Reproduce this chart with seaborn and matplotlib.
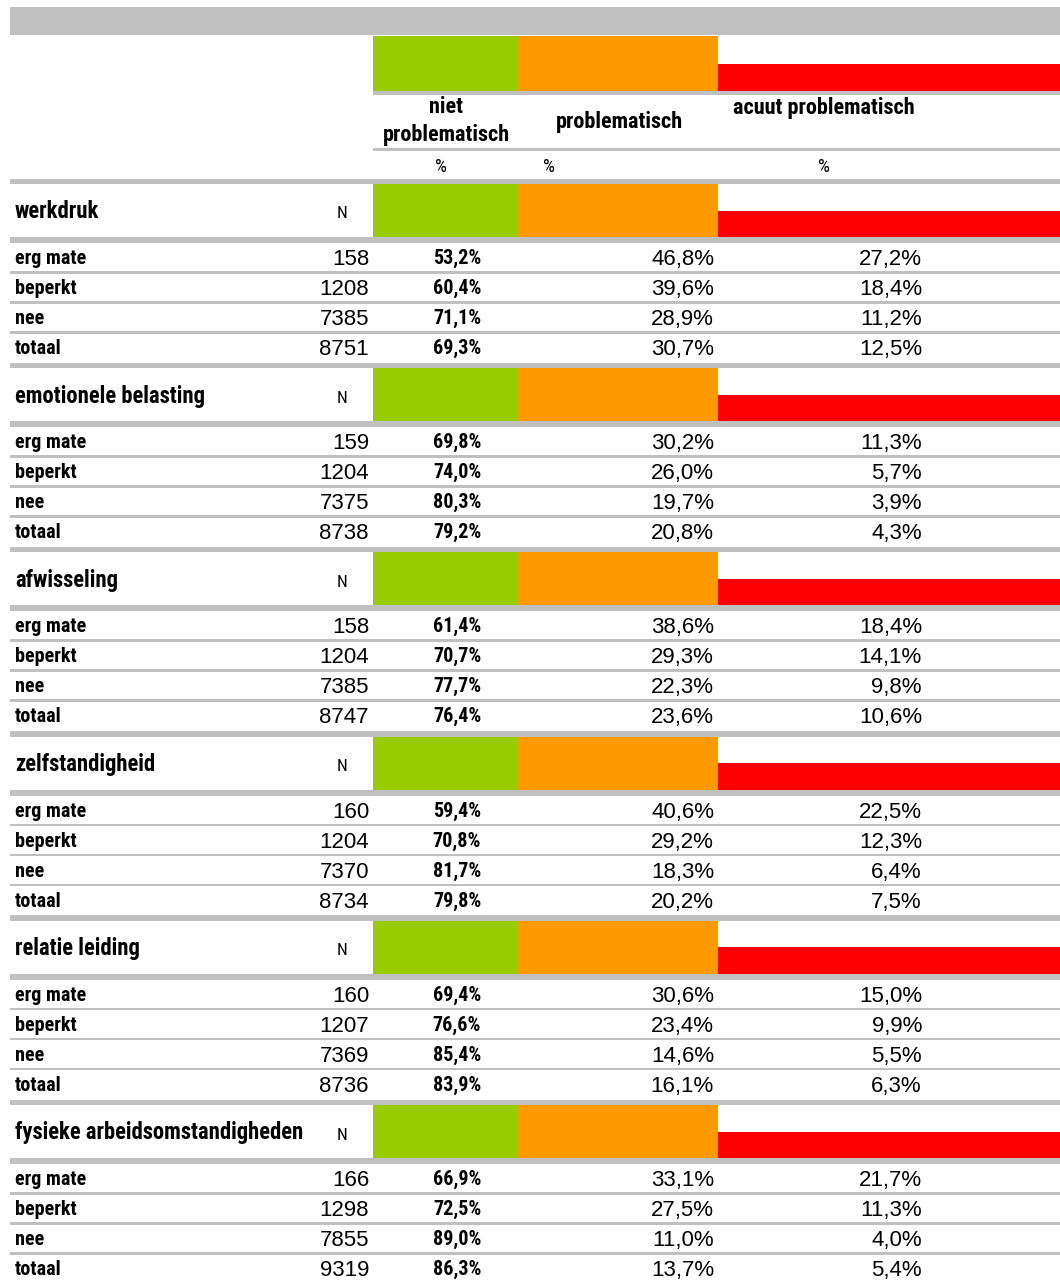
import matplotlib.pyplot as plt
import seaborn as sns
from matplotlib.patches import Rectangle

# data
sections = ["werkdruk", "emotionele belasting", "afwisseling", "zelfstandigheid",
            "relatie leiding", "fysieke arbeidsomstandigheden"]
levels = ["erg mate", "beperkt", "nee", "totaal"]
columns = ["niet\nproblematisch", "problematisch", "acuut problematisch"]

n_values = [[158, 1208, 7385, 8751],
            [159, 1204, 7375, 8738],
            [158, 1204, 7385, 8747],
            [160, 1204, 7370, 8734],
            [160, 1207, 7369, 8736],
            [166, 1298, 7855, 9319]]
niet_pct = [[53.2, 60.4, 71.1, 69.3],
            [69.8, 74.0, 80.3, 79.2],
            [61.4, 70.7, 77.7, 76.4],
            [59.4, 70.8, 81.7, 79.8],
            [69.4, 76.6, 85.4, 83.9],
            [66.9, 72.5, 89.0, 86.3]]
probl_pct = [[46.8, 39.6, 28.9, 30.7],
             [30.2, 26.0, 19.7, 20.8],
             [38.6, 29.3, 22.3, 23.6],
             [40.6, 29.2, 18.3, 20.2],
             [30.6, 23.4, 14.6, 16.1],
             [33.1, 27.5, 11.0, 13.7]]
acuut_pct = [[27.2, 18.4, 11.2, 12.5],
             [11.3, 5.7, 3.9, 4.3],
             [18.4, 14.1, 9.8, 10.6],
             [22.5, 12.3, 6.4, 7.5],
             [15.0, 9.9, 5.5, 6.3],
             [21.7, 11.3, 4.0, 5.4]]

sns.set_theme(style="white")
plt.rcParams["text.color"] = "black"
GREEN, ORANGE, RED = "#99CC00", "#FF9900", "#FF0000"
GRAY = "#C0C0C0"
NARROW = ["Liberation Sans Narrow", "Roboto Condensed", "Archivo Narrow", "DejaVu Sans"]
REG = ["Liberation Sans", "Arimo", "DejaVu Sans"]


def pct(v):
    return f"{v:.1f}%".replace(".", ",")


def box(ax, x0, x1, y0, y1, color):
    ax.add_patch(Rectangle((x0, y0), x1 - x0, y1 - y0, facecolor=color,
                           edgecolor="none", linewidth=0))


def color_blocks(ax, top, bottom):
    box(ax, 373, 517, top, bottom, GREEN)
    box(ax, 517, 718, top, bottom, ORANGE)
    box(ax, 718, 1060, (top + bottom) / 2, bottom, RED)


fig = plt.figure(figsize=(10.6, 12.8), dpi=100)
ax = fig.add_axes([0, 0, 1, 1])
ax.set_xlim(0, 1060)
ax.set_ylim(1280, 0)
ax.axis("off")

# header
box(ax, 10, 1060, 7, 35, GRAY)
color_blocks(ax, 36, 91)
box(ax, 373, 1060, 91, 95, GRAY)
ax.text(446, 121, columns[0], ha="center", va="center", fontsize=16,
        fontweight="bold", family=NARROW, linespacing=1.35)
ax.text(619, 122, columns[1], ha="center", va="center", fontsize=16,
        fontweight="bold", family=NARROW)
ax.text(824, 108, columns[2], ha="center", va="center", fontsize=16,
        fontweight="bold", family=NARROW)
box(ax, 373, 1060, 148, 151, GRAY)
for x in [441, 549, 824]:
    ax.text(x, 167, "%", ha="center", va="center", fontsize=13.5, family=NARROW)

for k, name in enumerate(sections):
    top = 184 + 184.2 * k
    box(ax, 10, 1060, top - 5.5, top, GRAY)
    color_blocks(ax, top, top + 53)
    ax.text(15, top + 28, name, ha="left", va="center", fontsize=16.3,
            fontweight="bold", family=NARROW)
    ax.text(342, top + 30, "N", ha="center", va="center", fontsize=12.5,
            family=NARROW)
    box(ax, 10, 1060, top + 53, top + 59, GRAY)
    for i, lev in enumerate(levels):
        yc = top + 73 + 30 * i
        if i > 0:
            box(ax, 10, 1060, yc - 16, yc - 13.5, GRAY)
        ax.text(15, yc + 1.5, lev, ha="left", va="center", fontsize=14.5,
                fontweight="bold", family=NARROW)
        ax.text(369, yc + 2.5, str(n_values[k][i]), ha="right", va="center",
                fontsize=16, family=REG)
        ax.text(457, yc + 1.5, pct(niet_pct[k][i]), ha="center", va="center",
                fontsize=14.5, fontweight="bold", family=NARROW)
        ax.text(714, yc + 2.5, pct(probl_pct[k][i]), ha="right", va="center",
                fontsize=16, family=REG)
        ax.text(922, yc + 2.5, pct(acuut_pct[k][i]), ha="right", va="center",
                fontsize=16, family=REG)

fig.savefig("out.png", dpi=100, facecolor="white")
